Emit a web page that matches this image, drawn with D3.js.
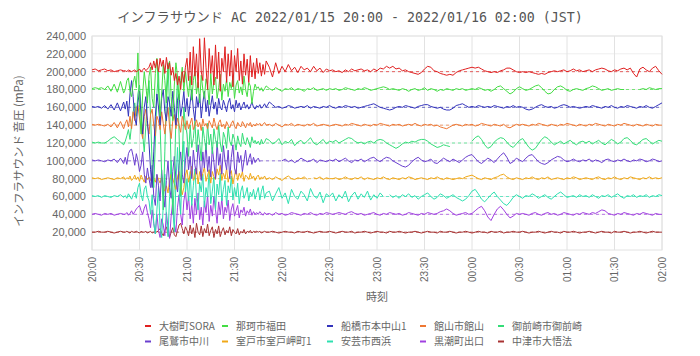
<!DOCTYPE html>
<html><head><meta charset="utf-8">
<script src="https://cdn.jsdelivr.net/npm/d3@7"></script>
<style>
html,body{margin:0;padding:0;background:#fff;}
svg{display:block;}
</style></head>
<body>
<svg id="chart" width="700" height="356"></svg>
<script>
// ---------------- DATA (values in thousands of mPa) ----------------
const titleText = "インフラサウンド AC 2022/01/15 20:00 - 2022/01/16 02:00 (JST)";
const yTitle = "インフラサウンド 音圧 (mPa)";
const xTitle = "時刻";
const xTickLabels = ["20:00","20:30","21:00","21:30","22:00","22:30","23:00","23:30","00:00","00:30","01:00","01:30","02:00"];
const yTickValues = [20000,40000,60000,80000,100000,120000,140000,160000,180000,200000,220000,240000];
const stations = ["大樹町SORA","那珂市福田","船橋市本中山1","館山市館山","御前崎市御前崎","尾鷲市中川","室戸市室戸岬町1","安芸市西浜","黒潮町出口","中津市大悟法"];
const baselines = [200,180,160,140,120,100,80,60,40,20];
const colors = ["#e02020","#44dd44","#3333bb","#ee7733","#33dd77","#6a3fcf","#f0a818","#2ee0b0","#a040e0","#a83232"];

// sampling grid: minutes after 20:00
const minutes = [...d3.range(0,21,2), ...d3.range(21,111), ...d3.range(112,361,2)];

const taiki = [
202,203,201,202,203,201,202,200,201,202,201,
201,200,202,201,200,201,202,200,
201,203,200,202,204,201,203,
205,210,202,212,204,214,200,215,206,213,198,216,203,210,196,205,
190,198,185,195,180,200,188,205,
215,190,222,185,228,195,220,182,237,200,190,238,205,180,226,198,218,185,230,192,
222,178,215,200,228,188,220,195,224,183,218,200,226,190,212,186,220,196,214,188,
218,194,210,192,215,
198,210,195,208,197,212,
205,194,210,198,206,200,208,201,205,199,206,202,204,200,206,201,204,199,203,201,
202,200,201,199,202,200,203,201,202,203,201,202,200,203,201,204,203,206,204,206,
203,204,201,202,200,199,198,197,199,203,206,205,201,200,198,197,196,197,196,199,
201,202,203,204,205,204,205,203,201,200,199,200,199,201,202,204,204,202,200,199,
200,199,200,199,198,197,198,197,199,200,201,200,201,202,200,201,203,201,202,200,
201,202,200,202,203,204,203,201,200,202,201,203,204,202,204,198,194,203,205,202,200,204,206,201,197];

const naka = [
181,182,181,182,180,184,178,186,177,189,176,
180,190,193,178,172,188,195,182,
221,160,130,175,200,185,165,
195,205,170,160,198,215,180,150,175,208,190,165,200,212,172,145,185,210,195,168,190,205,178,200,
185,172,195,168,190,200,175,188,165,196,180,170,192,185,163,198,175,188,194,170,
182,197,168,186,178,192,172,188,181,195,170,185,190,176,183,174,195,180,172,188,
184,164,178,186,181,
183,179,182,178,181,184,
181,179,182,180,178,181,180,182,179,181,180,178,181,180,182,179,180,181,179,181,
180,181,179,180,182,181,180,179,181,180,182,181,179,180,181,182,183,182,180,181,
180,179,181,180,178,180,181,179,180,182,179,181,180,178,180,179,181,180,179,181,
180,181,179,180,181,180,182,181,179,180,178,180,183,184,181,178,175,177,181,183,
181,179,180,182,184,185,182,178,175,176,180,183,184,182,179,178,180,181,180,179,
181,182,184,183,181,179,180,181,179,180,181,180,180,null,null,null,null,180,181,180,182,181,180,181,181];

const funabashi = [
161,160,161,159,162,158,163,157,165,156,166,
158,167,150,175,190,172,148,140,
165,178,150,130,160,172,145,
120,90,70,110,150,175,160,140,170,180,155,145,172,165,150,178,160,140,168,175,150,162,178,155,
170,150,165,180,158,145,172,160,175,148,165,178,155,168,150,162,173,158,166,152,
170,160,157,168,162,155,165,170,158,163,155,168,160,165,157,162,166,159,163,158,
161,166,160,158,162,
160,163,159,161,164,160,
166,163,160,161,159,160,162,161,159,160,161,160,162,159,161,160,159,161,160,162,
160,159,161,160,162,161,160,161,159,160,161,162,163,164,162,160,159,158,157,158,
160,161,160,162,161,160,159,161,162,163,163,161,160,159,160,158,157,157,159,162,
163,164,162,160,161,160,162,161,160,161,160,162,161,160,159,161,160,162,160,161,
160,158,157,158,160,162,163,161,160,161,159,160,162,163,162,160,161,160,159,160,
161,160,162,161,160,159,161,160,162,160,159,161,160,162,161,160,159,161,160,162,160,159,161,163,165];

const tateyama = [
141,140,141,140,139,141,138,143,137,144,136,
142,146,138,150,136,155,145,160,
162,148,135,125,150,158,140,
130,152,158,140,128,150,145,135,155,142,130,148,160,138,125,145,152,136,148,140,132,150,143,135,
145,136,142,148,135,140,146,138,143,134,147,139,142,136,145,141,137,148,140,135,
143,146,138,141,136,144,140,137,142,145,139,136,143,140,138,144,141,137,142,140,
143,138,141,139,142,
140,142,139,141,143,140,
141,139,142,140,138,141,140,142,139,141,140,139,141,140,142,139,140,141,140,139,
140,141,140,139,141,140,142,141,140,139,141,140,139,141,140,142,141,140,139,141,
140,141,139,140,141,140,142,140,139,141,140,141,139,140,138,137,136,138,140,141,
140,139,141,140,141,139,140,142,141,140,139,141,140,139,141,138,137,139,141,140,
141,140,139,141,140,142,141,140,139,141,140,139,141,140,142,141,140,139,141,140,
139,141,140,142,141,140,139,141,140,139,141,140,142,141,140,139,141,140,139,141,140,139,141,140,140];

const omaezaki = [
121,120,121,120,120,122,125,127,124,121,118,
122,128,135,124,140,155,165,150,
175,185,160,130,110,140,170,
190,150,95,70,120,175,200,140,85,45,110,180,210,160,90,40,75,150,195,130,60,100,160,140,
130,105,140,115,125,145,110,135,120,100,138,125,112,142,118,130,108,136,124,115,
140,120,110,132,126,114,138,122,117,130,124,112,128,120,116,131,122,118,126,121,
115,127,120,123,119,
122,118,124,119,121,125,
123,119,121,125,118,122,120,124,117,121,123,119,122,126,120,118,121,124,119,122,
121,123,120,122,124,126,125,122,120,121,119,121,122,120,123,124,123,120,118,116,
114,116,119,121,120,122,121,123,124,124,122,119,117,115,116,118,117,116,null,null,
null,null,null,null,122,126,128,124,118,114,116,121,124,126,125,121,117,115,119,123,
125,120,115,112,114,119,124,127,125,121,118,120,122,119,121,123,120,118,121,122,
120,122,119,121,123,120,118,121,124,122,119,121,125,126,123,119,118,121,124,125,122,119,121,123,122];

const owase = [
101,100,101,100,99,101,100,102,98,103,97,
104,96,108,112,113,105,95,108,
100,88,95,110,85,75,92,
80,70,95,60,50,85,72,55,90,65,48,78,100,70,58,88,105,80,65,95,110,85,75,100,
115,90,105,80,112,95,85,118,100,78,110,92,120,88,105,82,115,98,80,122,
95,108,85,117,100,90,112,80,104,118,92,85,110,98,106,88,100,112,95,102,
108,96,104,98,101,
103,99,null,null,null,null,
null,null,null,null,100,102,99,101,98,100,103,101,99,100,102,98,101,100,99,101,
100,102,99,101,103,100,98,101,100,102,99,101,103,104,101,99,102,104,103,100,
98,96,94,93,95,99,102,104,101,99,100,102,98,97,100,103,101,99,102,100,
98,101,104,106,107,103,99,97,100,103,101,98,102,106,109,104,97,99,103,101,
99,103,106,107,103,99,97,96,98,101,103,105,104,101,99,100,102,100,99,101,
100,102,99,101,100,98,101,102,100,99,101,100,102,100,99,101,100,102,101,99,100,102,101,99,100];

const muroto = [
81,80,81,79,80,81,80,79,81,80,82,
79,81,80,83,78,80,84,79,
82,77,84,80,76,83,79,
82,78,85,80,76,84,79,75,82,70,66,72,64,78,85,80,74,68,82,88,75,62,70,84,
90,76,85,94,78,82,92,74,88,80,86,93,77,84,90,75,88,82,79,91,
84,95,78,86,80,92,76,85,89,74,83,90,78,86,81,88,77,84,82,79,
86,80,83,78,82,
84,79,82,80,83,79,
81,79,82,80,78,81,83,80,79,81,80,82,79,null,81,80,82,79,81,80,
80,81,79,80,82,80,79,81,80,82,79,81,80,79,81,80,82,80,79,81,
80,79,81,80,82,81,79,80,81,80,79,81,80,82,80,79,81,80,79,80,
81,80,82,83,84,82,80,79,81,80,79,81,82,84,85,82,80,79,81,80,
79,81,80,82,80,79,81,80,82,79,80,81,80,79,81,80,82,81,79,80,
81,80,79,81,82,80,79,81,80,82,80,79,81,80,82,81,80,79,81,80,82,80,81,80,81];

const aki = [
61,60,61,59,61,60,59,61,60,62,59,
61,58,63,60,57,62,65,58,
70,75,62,55,68,72,60,
55,40,62,30,18,45,70,25,14,50,85,35,15,60,100,48,20,75,115,70,40,95,122,65,
80,55,88,50,72,91,58,45,76,65,85,48,70,60,90,52,66,82,45,74,
62,86,55,68,78,50,72,64,83,56,70,60,75,52,66,72,58,63,70,55,
65,60,68,57,64,
70,56,66,72,58,64,
66,55,63,70,58,64,52,68,60,57,66,62,55,69,61,58,65,53,63,60,
64,55,62,58,66,54,61,65,57,63,59,66,56,62,58,64,60,null,62,59,
61,58,62,60,63,59,61,57,60,62,64,60,57,59,63,61,58,60,62,59,
57,55,57,61,66,68,63,57,54,58,62,65,60,56,52,50,54,59,62,60,
58,61,60,63,61,58,60,62,59,57,60,63,65,62,59,60,61,59,62,60,
61,59,62,60,58,61,60,62,59,61,63,60,58,61,60,62,59,61,60,62,59,61,60,62,61];

const kuroshio = [
40,41,40,39,41,40,41,39,40,41,40,
40,42,39,41,44,40,43,46,
48,50,44,40,47,51,42,
35,25,45,30,18,40,22,14,35,28,16,42,25,13,38,55,30,20,48,62,40,28,55,66,
45,60,35,52,30,58,40,64,34,48,28,55,42,62,32,50,38,60,45,30,
54,40,58,35,48,42,56,33,46,52,38,44,50,36,45,42,48,38,44,41,
46,39,43,40,42,
40,43,41,39,42,40,
41,39,42,40,41,39,40,42,41,40,39,41,40,42,40,39,41,40,42,41,
40,41,42,41,40,42,43,41,40,41,39,40,41,42,40,39,41,40,42,41,
40,41,39,40,42,41,40,39,41,40,42,41,40,41,43,44,46,44,41,39,
40,41,42,40,41,44,47,49,44,37,33,40,46,49,45,40,36,38,41,40,
41,40,39,41,42,40,39,41,42,40,41,39,40,42,41,40,39,41,40,42,
41,40,42,41,43,45,44,41,40,39,41,40,42,41,40,39,41,40,42,41,40,39,41,40,40];

const nakatsu = [
20,20,21,20,20,21,20,19,20,21,20,
20,21,20,19,21,20,20,21,
20,19,21,20,20,21,19,
20,21,19,20,21,20,22,24,19,16,22,26,18,14,20,25,17,15,22,28,30,24,18,26,
22,16,28,18,25,14,30,20,17,27,15,24,19,29,16,22,26,14,23,18,
27,15,21,25,17,22,19,26,16,23,20,18,24,17,21,19,23,18,21,20,
22,19,21,20,21,
20,21,19,20,21,20,
20,21,20,19,20,21,20,20,19,21,20,20,21,20,19,20,21,20,20,21,
20,19,20,21,20,20,21,19,20,20,21,20,19,20,21,20,20,19,21,20,
20,21,20,19,20,20,21,20,19,20,21,20,20,19,21,20,20,21,20,19,
20,20,21,20,19,20,21,20,20,19,21,20,20,21,19,20,20,21,20,20,
21,20,19,20,20,21,20,19,20,21,20,20,19,21,20,20,21,20,19,20,
20,21,20,19,20,21,20,20,19,21,20,20,21,20,19,20,20,21,20,19,20,21,20,20,20];

const seriesValues = [taiki, naka, funabashi, tateyama, omaezaki, owase, muroto, aki, kuroshio, nakatsu];
const UNIT = 1000;

// ---------------- CHART ----------------
(function draw() {
const svg = d3.select("#chart");
const pL = 92, pR = 662, pT = 36, pB = 250;
const t0 = new Date(2022,0,15,20,0);
const t1 = new Date(2022,0,16,2,0);
const x = d3.scaleTime().domain([t0, t1]).range([pL, pR]);
const y = d3.scaleLinear().domain([0, 240000]).range([pB, pT]);
const timeOf = m => new Date(t0.getTime() + m*60000);
const xTicks = xTickLabels.map((_, i) => timeOf(i*30));

seriesValues.forEach((s,i)=>{ if (s.length !== minutes.length) console.error(stations[i], s.length, minutes.length); });

const gridColor = "#e2e2e2";
svg.append("g").selectAll("line").data(yTickValues).join("line")
  .attr("x1", pL).attr("x2", pR)
  .attr("y1", d => y(d)).attr("y2", d => y(d))
  .attr("stroke", "#eeeeee").attr("stroke-width", 1);
svg.append("g").selectAll("line").data(xTicks).join("line")
  .attr("x1", d => x(d)).attr("x2", d => x(d))
  .attr("y1", pT).attr("y2", pB)
  .attr("stroke", gridColor).attr("stroke-width", 1);
svg.append("rect").attr("x", pL).attr("y", pT).attr("width", pR-pL).attr("height", pB-pT)
  .attr("fill", "none").attr("stroke", gridColor).attr("stroke-width", 1);

svg.append("g").selectAll("line").data(baselines).join("line")
  .attr("x1", pL).attr("x2", pR)
  .attr("y1", d => y(d*UNIT)).attr("y2", d => y(d*UNIT))
  .attr("stroke", (d,i) => colors[i]).attr("stroke-opacity", 0.7)
  .attr("stroke-dasharray", "3,3").attr("stroke-width", 1);

const line = d3.line()
  .defined(d => d.v !== null)
  .x(d => x(timeOf(d.m)))
  .y(d => y(d.v * UNIT));
const order = d3.range(seriesValues.length).reverse();
svg.append("g").selectAll("path").data(order).join("path")
  .attr("d", i => line(minutes.map((m, k) => ({m, v: seriesValues[i][k]}))))
  .attr("fill", "none")
  .attr("stroke", i => colors[i])
  .attr("stroke-width", 1)
  .attr("stroke-linejoin", "round");

const txtColor = "#666";
const fmt = d3.format(",");
svg.append("g").selectAll("text").data(yTickValues).join("text")
  .attr("x", 86).attr("y", d => y(d)).attr("dy", "0.35em")
  .attr("text-anchor", "end")
  .attr("font-family", "'Liberation Sans', Arial, sans-serif").attr("font-size", 11)
  .attr("fill", txtColor).text(d => fmt(d));

svg.append("g").selectAll("text").data(xTicks).join("text")
  .attr("transform", d => `translate(${x(d)},257) rotate(-90)`)
  .attr("dy", "0.35em").attr("text-anchor", "end")
  .attr("font-family", "'Liberation Sans', Arial, sans-serif").attr("font-size", 10)
  .attr("fill", txtColor).text((d,i) => xTickLabels[i]);

svg.append("text").attr("transform", "translate(23,151) rotate(-90)")
  .attr("text-anchor", "middle")
  .attr("font-family", "'Noto Sans CJK JP', sans-serif").attr("font-size", 11.5)
  .attr("fill", txtColor).text(yTitle);
svg.append("text").attr("x", 377).attr("y", 301).attr("text-anchor", "middle")
  .attr("font-family", "'Noto Sans CJK JP', sans-serif").attr("font-size", 11)
  .attr("fill", txtColor).text(xTitle);

const title = svg.append("text").attr("x", 350).attr("y", 22).attr("text-anchor", "middle")
  .attr("font-family", "'DejaVu Sans Mono', 'Noto Sans CJK JP', monospace").attr("font-size", 15)
  .attr("fill", "#555").text(titleText);
const tw = title.node().getComputedTextLength();
if (tw > 0) title.attr("font-size", 15 * 466 / tw);

const colX = [145, 222, 327, 420, 498];
const rowY = [326, 341.5];
const lg = svg.append("g").selectAll("g").data(stations).join("g")
  .attr("transform", (d,i) => `translate(${colX[i%5]},${rowY[Math.floor(i/5)]})`);
lg.append("line").attr("x1", 0).attr("x2", 6).attr("y1", 0).attr("y2", 0)
  .attr("stroke", (d,i) => colors[i]).attr("stroke-width", 2);
lg.append("text").attr("x", 14).attr("dy", "0.35em")
  .attr("font-family", "'Noto Sans CJK JP', sans-serif").attr("font-size", 10)
  .attr("fill", txtColor).text(d => d);
})();
</script>
</body></html>
